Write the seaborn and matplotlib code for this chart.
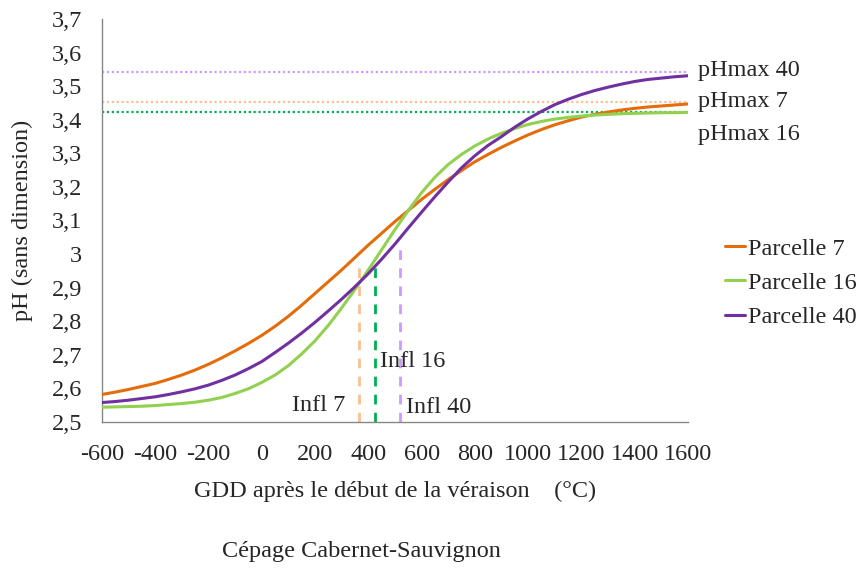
import matplotlib
matplotlib.use("Agg")
import matplotlib.pyplot as plt
import pandas as pd
import seaborn as sns

# GDD after the start of veraison (°C)
gdd = list(range(-600, 1601, 50))

# Fitted pH curves per plot, one value per 50 GDD
ph_parcelle_7 = [2.582, 2.589, 2.597, 2.606, 2.615, 2.627, 2.640, 2.655, 2.672,
                 2.691, 2.712, 2.734, 2.758, 2.785, 2.815, 2.848, 2.883, 2.918,
                 2.953, 2.990, 3.027, 3.062, 3.097, 3.130, 3.163, 3.193, 3.222,
                 3.249, 3.275, 3.297, 3.318, 3.337, 3.355, 3.371, 3.385, 3.397,
                 3.408, 3.416, 3.423, 3.429, 3.434, 3.438, 3.441, 3.444, 3.447]
ph_parcelle_16 = [2.544, 2.545, 2.546, 2.547, 2.549, 2.552, 2.555, 2.559, 2.565,
                  2.573, 2.585, 2.599, 2.618, 2.640, 2.668, 2.703, 2.742, 2.788,
                  2.840, 2.895, 2.953, 3.013, 3.073, 3.130, 3.183, 3.229, 3.267,
                  3.297, 3.322, 3.343, 3.360, 3.374, 3.386, 3.395, 3.402, 3.407,
                  3.411, 3.414, 3.416, 3.418, 3.419, 3.420, 3.421, 3.421, 3.422]
ph_parcelle_40 = [2.558, 2.561, 2.565, 2.570, 2.575, 2.582, 2.590, 2.599, 2.610,
                  2.624, 2.640, 2.659, 2.680, 2.707, 2.735, 2.765, 2.797, 2.831,
                  2.866, 2.903, 2.942, 2.985, 3.030, 3.078, 3.125, 3.171, 3.215,
                  3.257, 3.293, 3.324, 3.350, 3.378, 3.403, 3.425, 3.445, 3.461,
                  3.475, 3.487, 3.497, 3.506, 3.514, 3.520, 3.524, 3.528, 3.531]

series_names = ["Parcelle 7", "Parcelle 16", "Parcelle 40"]

# Plateau values (pHmax) and inflection points
phmax_labels = ["pHmax 7", "pHmax 16", "pHmax 40"]
phmax_values = [3.454, 3.422, 3.541]
infl_labels = ["Infl 7", "Infl 16", "Infl 40"]
infl_gdd = [365, 425, 518]
infl_top = [2.977, 2.975, 3.025]

x_ticks = [-600, -400, -200, 0, 200, 400, 600, 800, 1000, 1200, 1400, 1600]
y_ticks = [2.5, 2.6, 2.7, 2.8, 2.9, 3.0, 3.1, 3.2, 3.3, 3.4, 3.5, 3.6, 3.7]
y_tick_labels = ["2,5", "2,6", "2,7", "2,8", "2,9", "3", "3,1", "3,2", "3,3",
                 "3,4", "3,5", "3,6", "3,7"]

curve_colors = ["#E46C0A", "#92D050", "#7030A0"]
light_colors = ["#FAC090", "#00B050", "#CC99FF"]

df = pd.DataFrame({
    "gdd": gdd * 3,
    "ph": ph_parcelle_7 + ph_parcelle_16 + ph_parcelle_40,
    "parcelle": [n for n in series_names for _ in gdd],
})

sns.set_style("white")
plt.rcParams["font.family"] = ["Liberation Serif", "DejaVu Serif"]
FS = 17.5

fig = plt.figure(figsize=(8.59, 5.68), dpi=100)
ax = fig.add_axes([102 / 859, 1 - 422 / 568, (688 - 102) / 859, (422 - 19) / 568])

# Horizontal pHmax reference lines
for val, col in zip(phmax_values, light_colors):
    ax.plot([-600, 1600], [val, val], color=col, lw=1.6,
            linestyle=(0, (1, 1.2)), zorder=1)

# Vertical inflection markers
for xg, top, col in zip(infl_gdd, infl_top, light_colors):
    ax.plot([xg, xg], [2.5, top], color=col, lw=2.0,
            linestyle=(0, (3.5, 3.0)), zorder=1)

sns.lineplot(data=df, x="gdd", y="ph", hue="parcelle", hue_order=series_names,
             palette=curve_colors, linewidth=2.2, ax=ax, zorder=3)

ax.set_xlim(-600, 1600)
ax.set_ylim(2.5, 3.7)
ax.set_xticks(x_ticks)
ax.set_xticklabels([str(v) for v in x_ticks], fontsize=FS)
ax.set_yticks(y_ticks)
ax.set_yticklabels(y_tick_labels, fontsize=FS)
ax.tick_params(axis="both", direction="out", width=1, color="#868686")
ax.tick_params(axis="y", length=5.8, pad=8.6)
ax.tick_params(axis="x", length=4.3, pad=11.5)
for side in ["top", "right"]:
    ax.spines[side].set_visible(False)
for side in ["left", "bottom"]:
    ax.spines[side].set_color("#868686")
    ax.spines[side].set_linewidth(1.0)

ax.set_xlabel("GDD après le début de la véraison    (°C)", fontsize=FS)
ax.set_ylabel("pH (sans dimension)", fontsize=FS)
ax.xaxis.set_label_coords(0.5, -0.146)
ax.yaxis.set_label_coords(-0.118, 0.5)

# Annotations
phmax_pos = [(1637, 3.453), (1637, 3.355), (1637, 3.548)]
for (tx, ty), lab in zip(phmax_pos, phmax_labels):
    ax.text(tx, ty, lab, fontsize=FS, ha="left", va="center", clip_on=False)
infl_pos = [(113, 2.550), (444, 2.679), (541, 2.542)]
for (tx, ty), lab in zip(infl_pos, infl_labels):
    ax.text(tx, ty, lab, fontsize=FS, ha="left", va="center")

leg = ax.legend(loc="center left", bbox_to_anchor=(1.046, 0.345), frameon=False,
                fontsize=FS, handlelength=0.85, handletextpad=0.12,
                labelspacing=0.5, borderaxespad=0)
for line in leg.get_lines():
    line.set_linewidth(2.2)

fig.text(361 / 859, 1 - 552 / 568, "Cépage Cabernet-Sauvignon", fontsize=FS,
         ha="center", va="center")

fig.savefig("out.png", dpi=100)
